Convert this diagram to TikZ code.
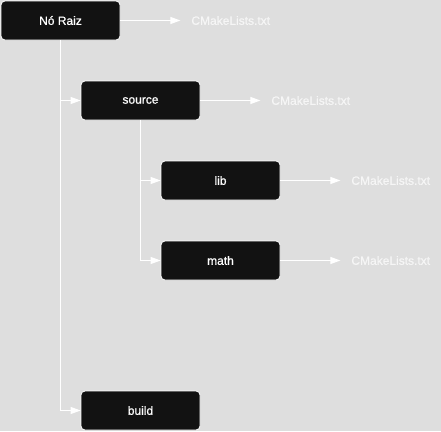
\documentclass[tikz,border=0pt]{standalone}
\usepackage{fontspec}
\setmainfont{Liberation Sans}
\newfontfamily\boxfont[FakeBold=0.8]{Liberation Sans}
\usetikzlibrary{arrows.meta,positioning}
\definecolor{bggray}{HTML}{DEDEDE}
\definecolor{boxfill}{HTML}{121212}
\definecolor{filetext}{HTML}{F6F6F6}
\tikzset{
  dirnode/.style  = {shape=rectangle, rounded corners=4pt,
                     draw=white, line width=0.8pt, fill=boxfill,
                     text=white, align=center,
                     minimum width=119pt, minimum height=39pt,
                     font=\boxfont\fontsize{12}{14}\selectfont},
  filenode/.style = {anchor=west, text=filetext, inner sep=0pt, outer xsep=11pt,
                     font=\boxfont\fontsize{12}{14}\selectfont},
  link/.style     = {draw=white, line width=1pt,
                     -{Stealth[length=10pt,width=7pt,inset=0pt]}}
}
\begin{document}
\begin{tikzpicture}[x=1pt, y=-1pt]
  \useasboundingbox[fill=bggray] (0,0) rectangle (441,431);

  % directories
  \node [dirnode] (root)   at (60.5,20.5)   {Nó Raiz};
  \node [dirnode] (source) at (140.5,100.5) {source};
  \node [dirnode] (lib)    at (220.5,180.5) {lib};
  \node [dirnode] (math)   at (220.5,260.5) {math};
  \node [dirnode] (build)  at (140.5,410.5) {build};

  % build files
  \node [filenode, right=60pt of root]   (rootcm)   {CMakeLists.txt};
  \node [filenode, right=60pt of source] (sourcecm) {CMakeLists.txt};
  \node [filenode, right=60pt of lib]    (libcm)    {CMakeLists.txt};
  \node [filenode, right=60pt of math]   (mathcm)   {CMakeLists.txt};

  \draw[link] (root) -- (rootcm);
  \draw[link] (source) -- (sourcecm);
  \draw[link] (lib) -- (libcm);
  \draw[link] (math) -- (mathcm);

  % tree
  \draw[link] (root.south) |- (source.west);
  \draw[link] (root.south) |- (build.west);
  \draw[link] (source.south) |- (lib.west);
  \draw[link] (source.south) |- (math.west);
\end{tikzpicture}
\end{document}
